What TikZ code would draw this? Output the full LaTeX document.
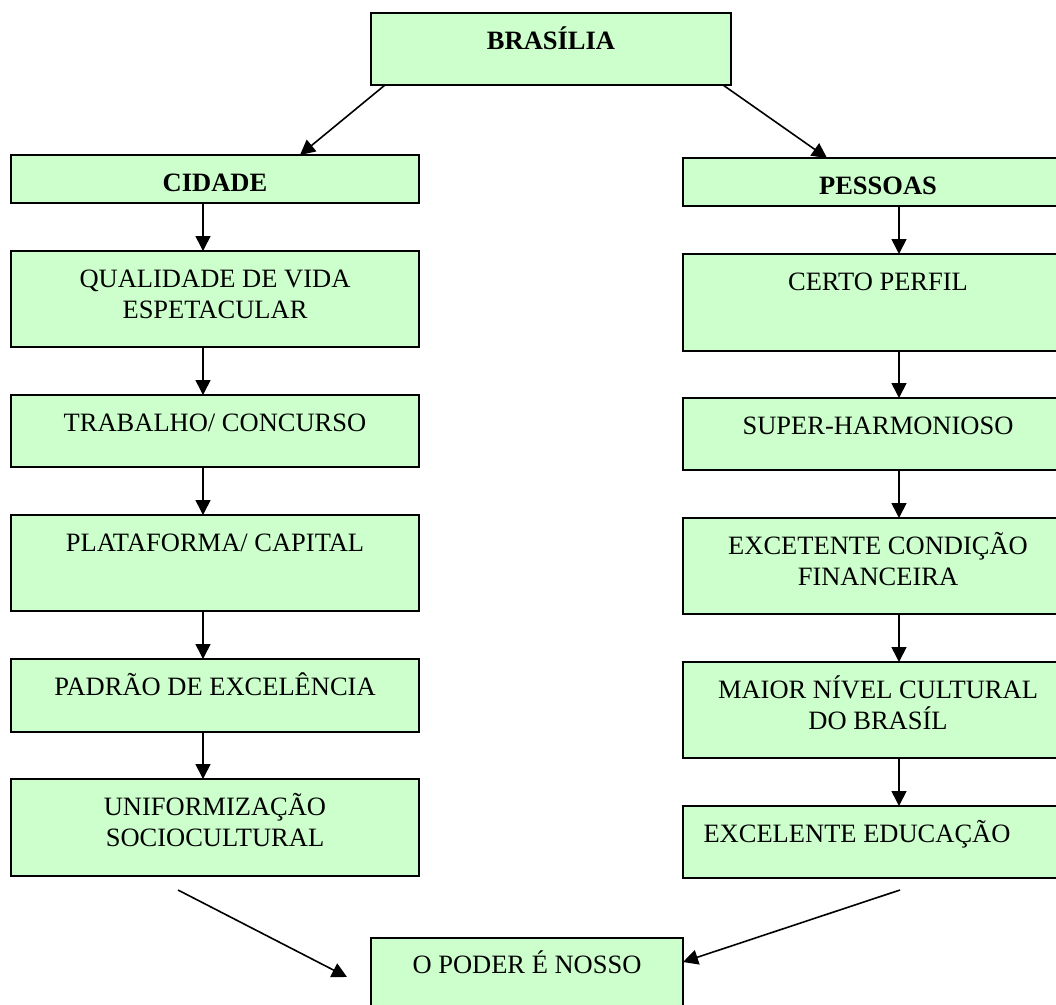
\documentclass[tikz,border=0pt]{standalone}
\usepackage{fontspec}
\setmainfont{Liberation Serif}
\usetikzlibrary{arrows.meta,calc}
\definecolor{boxfill}{HTML}{CCFFCC}
% fixed-height strut so the first baseline sits at the same depth in every box
\newcommand\fl{\rule{0pt}{25pt}}
\begin{document}
\begin{tikzpicture}[x=1pt,y=-1pt,
  box/.style={draw=black, line width=1.6pt, fill=boxfill, rectangle, inner sep=0pt, outer sep=0pt},
  lbl/.style={anchor=north, inner sep=0pt, align=center, font=\fontsize{26.5}{31}\selectfont, yshift=-11.5pt},
  arr/.style={line width=1.6pt, -{Triangle[length=15pt,width=15pt]}},
  lcol/.style={box, minimum width=408pt},
  rcol/.style={box, minimum width=390pt}
]
\useasboundingbox (0,0) rectangle (1056,1004);
\fill[white] (0,0) rectangle (1056,1004);
\clip (0,0) rectangle (1056,1004);

% top node
\node[box, minimum width=360pt, minimum height=72pt] (bra) at (551,49) {};
\node[lbl] (brat) at (bra.north) {\fl\bfseries BRASÍLIA};

% left column
\node[lcol, minimum height=48pt] (cid) at (215,179) {};
\node[lbl] (cidt) at (cid.north) {\fl\bfseries CIDADE};
\node[lcol, minimum height=96pt] (qua) at (215,299) {};
\node[lbl] (quat) at (qua.north) {\fl QUALIDADE DE VIDA\\ESPETACULAR};
\node[lcol, minimum height=72pt] (tra) at (215,431) {};
\node[lbl] (trat) at (tra.north) {\fl TRABALHO/ CONCURSO};
\node[lcol, minimum height=96pt] (pla) at (215,563) {};
\node[lbl] (plat) at (pla.north) {\fl PLATAFORMA/ CAPITAL};
\node[lcol, minimum height=73pt] (pad) at (215,695.5) {};
\node[lbl] (padt) at (pad.north) {\fl PADRÃO DE EXCELÊNCIA};
\node[lcol, minimum height=97pt] (uni) at (215,827.5) {};
\node[lbl] (unit) at (uni.north) {\fl UNIFORMIZAÇÃO\\SOCIOCULTURAL};

% right column
\node[rcol, minimum height=48pt] (pes) at (878,182) {};
\node[lbl] (pest) at (pes.north) {\fl\bfseries PESSOAS};
\node[rcol, minimum height=97pt] (cer) at (878,302.5) {};
\node[lbl] (cert) at (cer.north) {\fl CERTO PERFIL};
\node[rcol, minimum height=72pt] (sup) at (878,434) {};
\node[lbl] (supt) at (sup.north) {\fl SUPER-HARMONIOSO};
\node[rcol, minimum height=96pt] (exc) at (878,566) {};
\node[lbl] (exct) at (exc.north) {\fl EXCETENTE CONDIÇÃO\\FINANCEIRA};
\node[rcol, minimum height=96pt] (mai) at (878,710) {};
\node[lbl] (mait) at (mai.north) {\fl MAIOR NÍVEL CULTURAL\\DO BRASÍL};
\node[rcol, minimum height=72pt] (edu) at (878,842) {};
\node[lbl, xshift=-21pt] (edut) at (edu.north) {\fl EXCELENTE EDUCAÇÃO};

% bottom node
\node[box, minimum width=312pt, minimum height=72pt] (pod) at (527,974) {};
\node[lbl, yshift=1.5pt] (podt) at (pod.north) {\fl O PODER É NOSSO};

% column axes
\coordinate (lx) at (203,0);
\coordinate (rx) at (899,0);

% branches from the top node
\draw[arr] ($(bra.south west)+(14,0)$) -- ($(cid.north west)+(289,0)$);
\draw[arr] ($(bra.south east)+(-8,0)$) -- ($(pes.north west)+(144,0)$);

% left chain
\draw[arr] (cid.south -| lx) -- (qua.north -| lx);
\draw[arr] (qua.south -| lx) -- (tra.north -| lx);
\draw[arr] (tra.south -| lx) -- (pla.north -| lx);
\draw[arr] (pla.south -| lx) -- (pad.north -| lx);
\draw[arr] (pad.south -| lx) -- (uni.north -| lx);

% right chain
\draw[arr] (pes.south -| rx) -- (cer.north -| rx);
\draw[arr] (cer.south -| rx) -- (sup.north -| rx);
\draw[arr] (sup.south -| rx) -- (exc.north -| rx);
\draw[arr] (exc.south -| rx) -- (mai.north -| rx);
\draw[arr] (mai.south -| rx) -- (edu.north -| rx);

% converging arrows
\coordinate (ua) at (178,890);
\coordinate (ub) at (347,977);
\coordinate (ea) at (900,890);
\draw[arr] (ua) -- (ub);
\draw[arr] (ea) -- ($(pod.north east)+(0,24)$);
\end{tikzpicture}
\end{document}
